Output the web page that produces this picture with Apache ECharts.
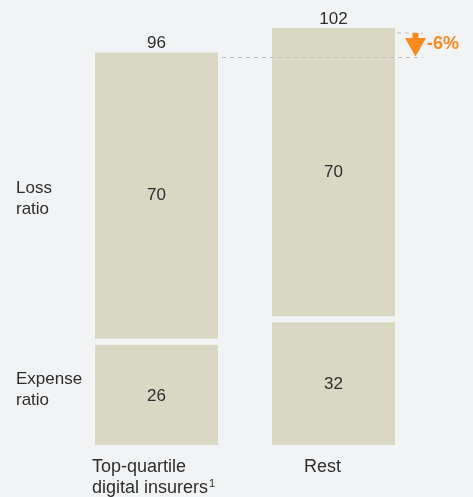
<!DOCTYPE html>
<html>
<head>
<meta charset="utf-8">
<script src="https://cdn.jsdelivr.net/npm/echarts@6/dist/echarts.min.js"></script>
<style>
  html, body { margin: 0; padding: 0; background: #F2F3F5; }
  #chart { width: 473px; height: 497px; }
</style>
</head>
<body>
<div id="chart"></div>
<script>
// Combined ratio split, top-quartile digital insurers vs rest
const categories = ['Top-quartile\ndigital insurers{sup|1}', 'Rest'];
const expenseRatio = [26, 32];
const lossRatio = [70, 70];
const totals = [96, 102];
const rowLabels = ['Loss\nratio', 'Expense\nratio'];
const changeLabel = '-6%';

const BAR = '#D9D8C4';
const TEXT = '#2E2E2E';
const ORANGE = '#F98A1E';
const FONT = '"Liberation Sans", Arial, Helvetica, sans-serif';

const chart = echarts.init(document.getElementById('chart'));

function renderBar(params, api) {
    const i = api.value(0);
    const e = api.value(1);
    const l = api.value(2);
    const base = api.coord([i, 0]);
    const mid = api.coord([i, e]);
    const top = api.coord([i, e + l]);
    const w = api.size([1, 0])[0] * 0.695;
    const x0 = base[0] - w / 2;
    const gap = 6;
    const lossBottom = mid[1] + (i === 0 ? 0 : 2);
    const expTop = lossBottom + gap;
    const textStyle = { fill: TEXT, font: '17px ' + FONT, align: 'center', verticalAlign: 'middle' };
    return {
        type: 'group',
        children: [
            { type: 'rect', shape: { x: x0, y: expTop, width: w, height: base[1] - expTop }, style: { fill: BAR } },
            { type: 'rect', shape: { x: x0, y: top[1], width: w, height: lossBottom - top[1] }, style: { fill: BAR } },
            { type: 'text', style: Object.assign({ x: base[0], y: (expTop + base[1]) / 2 + 1, text: String(e) }, textStyle) },
            { type: 'text', style: Object.assign({ x: base[0], y: (top[1] + lossBottom) / 2, text: String(l) }, textStyle) },
            { type: 'text', style: Object.assign({ x: base[0], y: top[1] - 9, text: String(totals[i]) }, textStyle) }
        ]
    };
}

chart.setOption({
    backgroundColor: '#F2F3F5',
    animation: false,
    grid: { left: 68, right: 51, top: 28, bottom: 52 },
    xAxis: {
        type: 'category',
        data: categories,
        axisLine: { show: false },
        axisTick: { show: false },
        axisLabel: { show: false }
    },
    yAxis: {
        type: 'value',
        min: 0,
        max: 102,
        show: false,
        splitLine: { show: false }
    },
    series: [{
        type: 'custom',
        renderItem: renderBar,
        data: categories.map((c, i) => [i, expenseRatio[i], lossRatio[i]])
    }]
});

// Annotations positioned from the axis scales
const yTop1 = chart.convertToPixel({ yAxisIndex: 0 }, totals[0]);
const yTop2 = chart.convertToPixel({ yAxisIndex: 0 }, totals[1]);
const yLoss = chart.convertToPixel({ yAxisIndex: 0 }, expenseRatio[0] + lossRatio[0] / 2);
const yExp = chart.convertToPixel({ yAxisIndex: 0 }, expenseRatio[0] / 2);
const bandW = 354 / categories.length;
const barW = bandW * 0.695;
const cx = categories.map((c, i) => chart.convertToPixel({ xAxisIndex: 0 }, i));
const yBase = chart.convertToPixel({ yAxisIndex: 0 }, 0);

const lowLine = yTop1 + 5;
const highLine = yTop2 + 5;
const arrowX = 415.5;
const dash = { stroke: '#BDBDBD', lineWidth: 1, lineDash: [4, 4] };
const labelRich = { sup: { fontSize: 11, fontFamily: FONT, fill: TEXT, verticalAlign: 'top', padding: [0, 0, 7, 1] } };

chart.setOption({
    graphic: [
        { type: 'line', shape: { x1: cx[0] + barW / 2 + 4, y1: lowLine, x2: 423, y2: lowLine }, style: dash, z: 10 },
        { type: 'line', shape: { x1: cx[1] + barW / 2 + 2, y1: highLine, x2: 423, y2: highLine }, style: dash, z: 10 },
        { type: 'rect', shape: { x: arrowX - 3, y: highLine, width: 6, height: 7 }, style: { fill: ORANGE }, z: 11 },
        { type: 'polygon', shape: { points: [[arrowX - 10.5, highLine + 5], [arrowX + 10.5, highLine + 5], [arrowX, lowLine - 1]] }, style: { fill: ORANGE }, z: 11 },
        { type: 'text', x: 427, y: (highLine + lowLine) / 2 - 1, style: { text: changeLabel, fill: ORANGE, font: 'bold 18px ' + FONT, verticalAlign: 'middle' }, z: 11 },
        { type: 'text', x: 16, y: yLoss + 3, style: { text: rowLabels[0], fill: TEXT, font: '17px ' + FONT, lineHeight: 21, verticalAlign: 'middle' } },
        { type: 'text', x: 16, y: yExp - 2, style: { text: rowLabels[1], fill: TEXT, font: '17px ' + FONT, lineHeight: 21, verticalAlign: 'middle' } },
        { type: 'text', x: cx[0] - barW / 2 - 3, y: yBase + 12, style: { text: categories[0], fill: TEXT, font: '18px ' + FONT, lineHeight: 21, rich: labelRich } },
        { type: 'text', x: cx[1] - 11, y: yBase + 12, style: { text: categories[1], fill: TEXT, font: '18px ' + FONT, lineHeight: 21, align: 'center' } }
    ]
});
</script>
</body>
</html>
